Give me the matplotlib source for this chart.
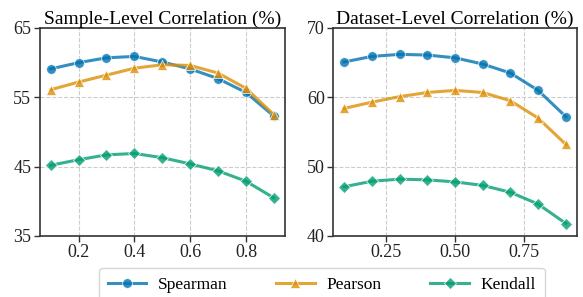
import matplotlib
matplotlib.use("Agg")
import matplotlib.pyplot as plt
import numpy as np

# Data
ratios = [0.1, 0.2, 0.3, 0.4, 0.5, 0.6, 0.7, 0.8, 0.9]

sample_spearman = [59.1, 60.0, 60.7, 60.9, 60.1, 59.1, 57.7, 55.7, 52.3]
sample_pearson = [56.1, 57.2, 58.2, 59.2, 59.7, 59.6, 58.5, 56.3, 52.5]
sample_kendall = [45.2, 46.0, 46.7, 46.9, 46.3, 45.4, 44.4, 42.9, 40.5]

dataset_spearman = [65.1, 65.9, 66.2, 66.1, 65.7, 64.8, 63.5, 61.0, 57.2]
dataset_pearson = [58.4, 59.3, 60.1, 60.7, 61.0, 60.7, 59.5, 57.0, 53.2]
dataset_kendall = [47.1, 47.9, 48.2, 48.1, 47.8, 47.3, 46.3, 44.6, 41.8]

series_names = ["Spearman", "Pearson", "Kendall"]
colors = ["#0173b2", "#de8f05", "#029e73"]
markers = ["o", "^", "D"]

plt.rcParams["font.family"] = ["Liberation Serif", "DejaVu Serif"]
plt.rcParams["mathtext.fontset"] = "stix"

fig = plt.figure(figsize=(5.83, 2.97), dpi=100)
ax1 = fig.add_axes([39.5 / 583, 1 - 236 / 297, 245.5 / 583, 208 / 297])
ax2 = fig.add_axes([333 / 583, 1 - 236 / 297, 244 / 583, 208 / 297])

panels = [
    (ax1, "Sample-Level Correlation (%)",
     [sample_spearman, sample_pearson, sample_kendall], (35, 65), [35, 45, 55, 65], [0.2, 0.4, 0.6, 0.8]),
    (ax2, "Dataset-Level Correlation (%)",
     [dataset_spearman, dataset_pearson, dataset_kendall], (40, 70), [40, 50, 60, 70], [0.25, 0.50, 0.75]),
]

for ax, title, data, ylim, yticks, xticks in panels:
    for name, vals, c, m in zip(series_names, data, colors, markers):
        ax.plot(ratios, vals, color=c, marker=m, label=name, linewidth=2.2,
                markersize=7 if m != "D" else 6, alpha=0.8,
                markeredgecolor="white", markeredgewidth=0.6)
    ax.set_title(title, fontsize=14, pad=3)
    ax.set_ylim(*ylim)
    ax.set_yticks(yticks)
    ax.set_xticks(xticks)
    ax.set_xlim(0.06, 0.94)
    ax.grid(True, linestyle="--", color="#cccccc", linewidth=0.8)
    ax.set_axisbelow(True)
    for sp in ax.spines.values():
        sp.set_color("#333333")
        sp.set_linewidth(1.2)
    ax.tick_params(axis="both", labelsize=13, direction="out", length=4,
                   width=1, color="#333333", labelcolor="#222222", pad=2)

ax2.xaxis.set_major_formatter(matplotlib.ticker.FormatStrFormatter("%.2f"))

handles, labels = ax1.get_legend_handles_labels()
fig.legend(handles, labels, loc="upper center", ncol=3,
           bbox_to_anchor=(322 / 583, 1 - 268 / 297), fontsize=12.5,
           frameon=True, edgecolor="#cccccc", fancybox=True, borderaxespad=0,
           handlelength=2.2, handletextpad=0.7, columnspacing=2.8, borderpad=0.5)

fig.savefig("out.png", dpi=100)
